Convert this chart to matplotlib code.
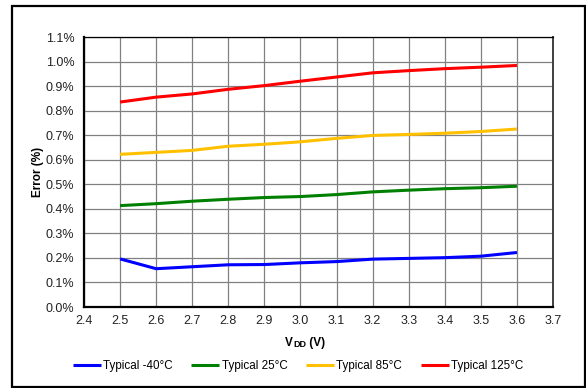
import matplotlib.pyplot as plt
from matplotlib.patches import Rectangle
from matplotlib.ticker import FuncFormatter

plt.rcParams['font.family'] = ['Liberation Sans', 'DejaVu Sans']

# Data
vdd = [2.5, 2.6, 2.7, 2.8, 2.9, 3.0, 3.1, 3.2, 3.3, 3.4, 3.5, 3.6]
err_m40 = [0.196, 0.156, 0.164, 0.172, 0.173, 0.180, 0.185, 0.195, 0.198, 0.201, 0.207, 0.222]
err_25 = [0.413, 0.421, 0.431, 0.439, 0.446, 0.450, 0.458, 0.469, 0.476, 0.482, 0.486, 0.492]
err_85 = [0.622, 0.630, 0.638, 0.655, 0.663, 0.673, 0.687, 0.699, 0.703, 0.708, 0.715, 0.725]
err_125 = [0.835, 0.855, 0.868, 0.887, 0.902, 0.920, 0.937, 0.954, 0.963, 0.971, 0.977, 0.984]
labels = ['Typical -40°C', 'Typical 25°C', 'Typical 85°C', 'Typical 125°C']
colors = ['#0000FF', '#008000', '#FFC000', '#FF0000']

fig = plt.figure(figsize=(5.86, 3.88), dpi=100)
ax = fig.add_axes([84 / 586, 1 - 307 / 388, (553 - 84) / 586, (307 - 37) / 388])

for ys, lab, c in zip([err_m40, err_25, err_85, err_125], labels, colors):
    ax.plot(vdd, ys, color=c, lw=2.2, label=lab, solid_capstyle='butt')

ax.set_xlim(2.4, 3.7)
ax.set_ylim(0, 1.1)
ax.set_xticks([round(2.4 + 0.1 * i, 1) for i in range(14)])
ax.set_yticks([round(0.1 * i, 1) for i in range(12)])
ax.xaxis.set_major_formatter(FuncFormatter(lambda v, p: f'{v:.1f}'))
ax.yaxis.set_major_formatter(FuncFormatter(lambda v, p: f'{v:.1f}%'))
ax.tick_params(length=0, labelsize=9, labelcolor='#222222')
ax.tick_params(axis='y', pad=7)
ax.tick_params(axis='x', pad=6)
ax.grid(True, color='#808080', lw=0.9)
ax.set_axisbelow(True)
for s in ['left', 'bottom']:
    ax.spines[s].set_linewidth(1.6)
ax.spines['top'].set_linewidth(0.9)
ax.spines['right'].set_linewidth(1.4)
ax.spines['right'].set_color('#404040')

ax.set_ylabel('Error (%)', fontsize=8.5, fontweight='bold', labelpad=1)

# x label "VDD (V)" with small-caps subscript look
t1 = fig.text(285 / 586, 1 - 346 / 388, 'V', fontsize=8.5, fontweight='bold', va='baseline')
t2 = ax.annotate('DD', xy=(1, 0), xycoords=t1, fontsize=6.5, fontweight='bold', va='bottom')
ax.annotate(' (V)', xy=(1, 0), xycoords=t2, fontsize=8.5, fontweight='bold', va='bottom')

fig.legend(loc='center', bbox_to_anchor=(298 / 586, 1 - 366 / 388), ncol=4, frameon=False,
           fontsize=8.4, handlelength=2.4, handletextpad=0.2, columnspacing=1.6)

fig.patches.append(Rectangle((12 / 586, 1 / 388), 573 / 586, 381 / 388, transform=fig.transFigure,
                             fill=False, edgecolor='black', lw=1.6))

fig.savefig('out.png', dpi=100)
